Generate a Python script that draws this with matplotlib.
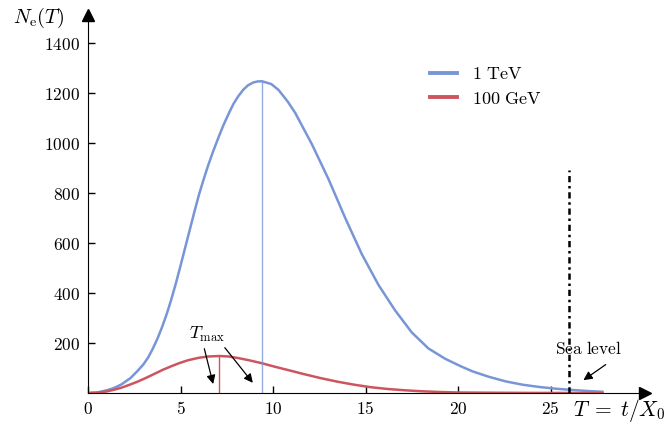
import numpy as np
import matplotlib.pyplot as plt

plt.rcParams['mathtext.fontset'] = 'cm'
plt.rcParams['font.family'] = 'serif'
plt.rcParams['font.serif'] = ['DejaVu Serif']

col_tev = (120/255., 150/255., 215/255.)
col_gev = (205/255., 85/255., 95/255.)

# shower depth T = t/X0 and number of electrons
t_tev = [0, 0.5, 1.08, 1.4, 1.8, 2.3, 2.7, 3.0, 3.25, 3.5, 3.75, 4.0, 4.25,
         4.5, 4.75, 5.0, 5.25, 5.5, 5.75, 6.0, 6.23, 6.5, 6.77, 7.05, 7.31,
         7.6, 7.85, 8.1, 8.39, 8.65, 8.93, 9.15, 9.4, 9.9, 10.3, 10.8, 11.2,
         12.1, 13.0, 13.9, 14.8, 15.7, 16.6, 17.5, 18.4, 19.3, 20.2, 20.8,
         21.7, 22.6, 23.5, 24.4, 25.3, 26.2, 27.0, 27.8]
n_tev = [0, 2, 12, 20, 34, 60, 90, 115, 142, 177, 217, 263, 315,
         374, 439, 509, 581, 653, 725, 794, 850, 912, 968, 1022, 1070,
         1117, 1155, 1185, 1213, 1231, 1242, 1246, 1247, 1236, 1212, 1165, 1120,
         995, 855, 700, 555, 432, 330, 242, 178, 137, 105, 86,
         64, 46, 33, 24, 17, 12, 8, 5]

t_gev = [0, 0.5, 1.0, 1.4, 1.8, 2.25, 2.7, 3.15, 3.6, 4.05, 4.5, 4.95, 5.4,
         6.0, 6.5, 7.1, 7.6, 8.1, 8.7, 9.4, 10.1, 10.8, 11.7, 12.6, 13.5,
         14.4, 15.3, 16.2, 17.1, 18.0, 19.0, 20.0, 22.0, 24.0, 27.8]
n_gev = [0, 1.5, 6, 13, 21, 33, 46, 61, 77, 93, 107, 120, 131,
         141, 146, 148, 146, 140, 131, 119, 105, 92, 75, 59, 45,
         33, 23, 16, 11, 7, 4, 2, 1, 0.3, 0]

t_max_tev = 9.4
n_max_tev = 1247
t_max_gev = 7.1
n_max_gev = 148
t_sea = 26.0
n_sea_top = 892

xticks = [0, 5, 10, 15, 20, 25]
yticks = [200, 400, 600, 800, 1000, 1200, 1400]

fig = plt.figure(figsize=(6.71, 4.26), dpi=100)
ax = fig.add_axes([88/671., 33/426., 557/671., 378/426.])

ax.plot(t_tev, n_tev, color=col_tev, lw=1.8, label=r'$\mathrm{1\ TeV}$')
ax.plot(t_gev, n_gev, color=col_gev, lw=1.8, label=r'$\mathrm{100\ GeV}$')
ax.plot([t_max_tev, t_max_tev], [0, n_max_tev], color=col_tev, lw=1, alpha=.8)
ax.plot([t_max_gev, t_max_gev], [0, n_max_gev], color=col_gev, lw=1)
ax.plot([t_sea, t_sea], [0, n_sea_top], color='k', lw=1.8, ls=(0, (2.5, 1.5, 1, 1.5)))

arr = dict(arrowstyle='-|>', color='k', lw=0.9, mutation_scale=13)
ax.annotate('', xy=(6.8, 25), xytext=(6.25, 188), arrowprops=arr)
ax.annotate('', xy=(9.0, 32), xytext=(7.3, 190), arrowprops=arr)
ax.text(6.45, 234, r'$T_{\mathrm{max}}$', fontsize=13, ha='center', va='center')

ax.annotate('', xy=(26.65, 45), xytext=(28.1, 120), arrowprops=arr)
ax.text(25.25, 176, r'$\mathrm{Sea\ level}$', fontsize=12.5, ha='left', va='center')

ax.set_xlim(0, 30.1)
ax.set_ylim(0, 1512)
ax.spines['top'].set_visible(False)
ax.spines['right'].set_visible(False)
ax.plot(1, 0, '>k', ms=8, transform=ax.transAxes, clip_on=False)
ax.plot(0, 1, '^k', ms=8, transform=ax.transAxes, clip_on=False)

ax.set_xticks(xticks)
ax.set_xticklabels([r'$%d$' % v for v in xticks], fontsize=12.5)
ax.set_yticks(yticks)
ax.set_yticklabels([r'$%d$' % v for v in yticks], fontsize=12.5)
ax.tick_params(direction='in', length=5, width=1)
ax.tick_params(axis='y', pad=5.5)
ax.tick_params(axis='x', pad=6)

ax.legend(loc='upper left', bbox_to_anchor=(0.585, 0.91), frameon=False,
          fontsize=13, handlelength=1.5, handletextpad=0.8, labelspacing=0.35)
for h in ax.get_legend().get_lines():
    h.set_linewidth(2.8)

fig.text(13/671., 1 - 18/426., r'$N_{\mathrm{e}}(T)$', fontsize=14.5, va='center')
fig.text(573/671., 1 - 411/426., r'$T\;=\;t/X_0$', fontsize=15.5, va='center')

fig.savefig('out.png', dpi=100)
